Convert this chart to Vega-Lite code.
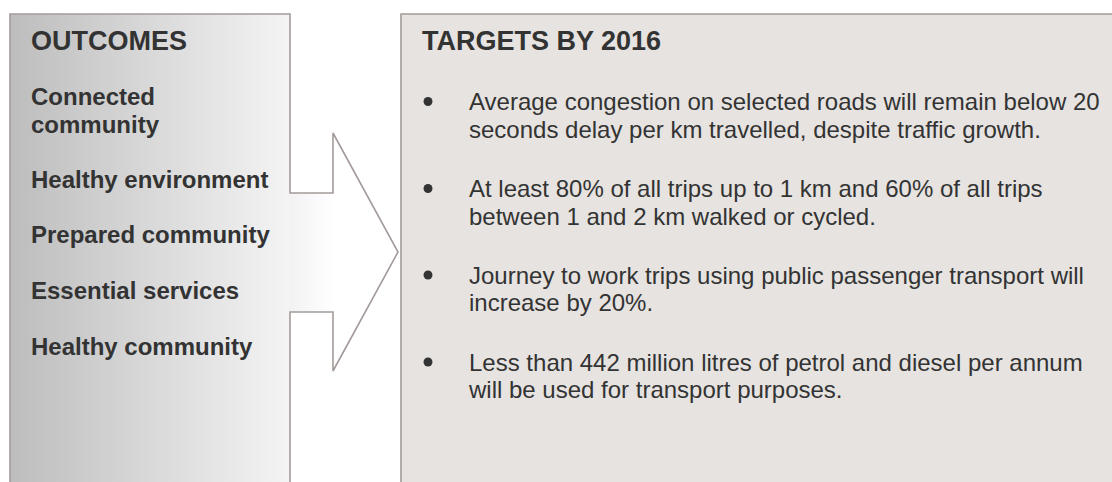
{
  "$schema": "https://vega.github.io/schema/vega-lite/v6.json",
  "width": 1112,
  "height": 482,
  "padding": 0,
  "autosize": {"type": "none"},
  "background": "#ffffff",
  "config": {"view": {"stroke": null}},
  "datasets": {
    "boxes": [
      {"box": "outcomes", "x0": 10, "x1": 290, "y0": 14, "y1": 482},
      {"box": "targets", "x0": 401, "x1": 1112, "y0": 14, "y1": 482}
    ],
    "arrow": [
      {"x": 290, "top": 193, "bottom": 312},
      {"x": 333, "top": 193, "bottom": 312},
      {"x": 333.01, "top": 133, "bottom": 371},
      {"x": 398, "top": 252, "bottom": 252}
    ],
    "outline": [
      {"path": "left", "i": 1, "x": 10, "y": 482},
      {"path": "left", "i": 2, "x": 10, "y": 14},
      {"path": "left", "i": 3, "x": 290, "y": 14},
      {"path": "left", "i": 4, "x": 290, "y": 193},
      {"path": "left", "i": 5, "x": 333, "y": 193},
      {"path": "left", "i": 6, "x": 333, "y": 133},
      {"path": "left", "i": 7, "x": 398, "y": 252},
      {"path": "left", "i": 8, "x": 333, "y": 371},
      {"path": "left", "i": 9, "x": 333, "y": 312},
      {"path": "left", "i": 10, "x": 290, "y": 312},
      {"path": "left", "i": 11, "x": 290, "y": 482},
      {"path": "right", "i": 1, "x": 1112, "y": 14},
      {"path": "right", "i": 2, "x": 401, "y": 14},
      {"path": "right", "i": 3, "x": 401, "y": 482}
    ],
    "labels": [
      {"group": "heading", "x": 31, "y": 50, "text": "OUTCOMES"},
      {"group": "heading", "x": 422, "y": 50, "text": "TARGETS BY 2016"},
      {"group": "outcome", "x": 31, "y": 105, "text": "Connected\ncommunity"},
      {"group": "outcome", "x": 31, "y": 188, "text": "Healthy environment"},
      {"group": "outcome", "x": 31, "y": 243, "text": "Prepared community"},
      {"group": "outcome", "x": 31, "y": 299, "text": "Essential services"},
      {"group": "outcome", "x": 31, "y": 355, "text": "Healthy community"},
      {"group": "target", "x": 469, "y": 110, "text": "Average congestion on selected roads will remain below 20\nseconds delay per km travelled, despite traffic growth."},
      {"group": "target", "x": 469, "y": 197, "text": "At least 80% of all trips up to 1 km and 60% of all trips\nbetween 1 and 2 km walked or cycled."},
      {"group": "target", "x": 469, "y": 283.5, "text": "Journey to work trips using public passenger transport will\nincrease by 20%."},
      {"group": "target", "x": 469, "y": 370.5, "text": "Less than 442 million litres of petrol and diesel per annum\nwill be used for transport purposes."}
    ],
    "bullets": [
      {"x": 428, "y": 101.5},
      {"x": 428, "y": 188.5},
      {"x": 428, "y": 275},
      {"x": 428, "y": 362}
    ]
  },
  "layer": [
    {
      "data": {"name": "boxes"},
      "transform": [{"filter": "datum.box === 'outcomes'"}],
      "mark": {"type": "rect", "fill": {"gradient": "linear", "x1": 0, "x2": 1, "y1": 0, "y2": 0, "stops": [{"offset": 0, "color": "#bdbdbd"}, {"offset": 1, "color": "#f4f4f4"}]}, "stroke": null},
      "encoding": {
        "x": {"field": "x0", "type": "quantitative", "scale": {"domain": [0, 1112], "nice": false, "zero": false}, "axis": null},
        "x2": {"field": "x1"},
        "y": {"field": "y0", "type": "quantitative", "scale": {"domain": [0, 482], "nice": false, "zero": false, "reverse": true}, "axis": null},
        "y2": {"field": "y1"}
      }
    },
    {
      "data": {"name": "boxes"},
      "transform": [{"filter": "datum.box === 'targets'"}],
      "mark": {"type": "rect", "fill": "#e6e3e1", "stroke": null},
      "encoding": {
        "x": {"field": "x0", "type": "quantitative", "scale": {"domain": [0, 1112], "nice": false, "zero": false}, "axis": null},
        "x2": {"field": "x1"},
        "y": {"field": "y0", "type": "quantitative", "scale": {"domain": [0, 482], "nice": false, "zero": false, "reverse": true}, "axis": null},
        "y2": {"field": "y1"}
      }
    },
    {
      "data": {"name": "arrow"},
      "mark": {"type": "area", "fill": {"gradient": "linear", "x1": 0, "x2": 1, "y1": 0, "y2": 0, "stops": [{"offset": 0, "color": "#f2f2f2"}, {"offset": 0.4, "color": "#ffffff"}, {"offset": 1, "color": "#ffffff"}]}, "stroke": null, "orient": "vertical"},
      "encoding": {
        "x": {"field": "x", "type": "quantitative", "scale": {"domain": [0, 1112], "nice": false, "zero": false}, "axis": null},
        "y": {"field": "top", "type": "quantitative", "scale": {"domain": [0, 482], "nice": false, "zero": false, "reverse": true}, "axis": null},
        "y2": {"field": "bottom"}
      }
    },
    {
      "data": {"name": "outline"},
      "mark": {"type": "line", "stroke": "#a39b99", "strokeWidth": 1.6, "strokeJoin": "miter"},
      "encoding": {
        "x": {"field": "x", "type": "quantitative", "scale": {"domain": [0, 1112], "nice": false, "zero": false}, "axis": null},
        "y": {"field": "y", "type": "quantitative", "scale": {"domain": [0, 482], "nice": false, "zero": false, "reverse": true}, "axis": null},
        "order": {"field": "i", "type": "quantitative"},
        "detail": {"field": "path", "type": "nominal"}
      }
    },
    {
      "data": {"name": "labels"},
      "transform": [{"filter": "datum.group === 'heading'"}],
      "mark": {"type": "text", "align": "left", "baseline": "alphabetic", "font": "Liberation Sans", "fontWeight": "bold", "fontSize": 27, "color": "#333333"},
      "encoding": {
        "x": {"field": "x", "type": "quantitative", "scale": {"domain": [0, 1112], "nice": false, "zero": false}, "axis": null},
        "y": {"field": "y", "type": "quantitative", "scale": {"domain": [0, 482], "nice": false, "zero": false, "reverse": true}, "axis": null},
        "text": {"field": "text"}
      }
    },
    {
      "data": {"name": "labels"},
      "transform": [{"filter": "datum.group === 'outcome'"}],
      "mark": {"type": "text", "align": "left", "baseline": "alphabetic", "font": "Liberation Sans", "fontWeight": "bold", "fontSize": 24, "lineHeight": 27.5, "lineBreak": "\n", "color": "#333333"},
      "encoding": {
        "x": {"field": "x", "type": "quantitative", "scale": {"domain": [0, 1112], "nice": false, "zero": false}, "axis": null},
        "y": {"field": "y", "type": "quantitative", "scale": {"domain": [0, 482], "nice": false, "zero": false, "reverse": true}, "axis": null},
        "text": {"field": "text"}
      }
    },
    {
      "data": {"name": "labels"},
      "transform": [{"filter": "datum.group === 'target'"}],
      "mark": {"type": "text", "align": "left", "baseline": "alphabetic", "font": "Liberation Sans", "fontWeight": "normal", "fontSize": 24, "lineHeight": 27.7, "lineBreak": "\n", "color": "#333333"},
      "encoding": {
        "x": {"field": "x", "type": "quantitative", "scale": {"domain": [0, 1112], "nice": false, "zero": false}, "axis": null},
        "y": {"field": "y", "type": "quantitative", "scale": {"domain": [0, 482], "nice": false, "zero": false, "reverse": true}, "axis": null},
        "text": {"field": "text"}
      }
    },
    {
      "data": {"name": "bullets"},
      "mark": {"type": "point", "shape": "circle", "filled": true, "size": 80, "color": "#333333", "opacity": 1},
      "encoding": {
        "x": {"field": "x", "type": "quantitative", "scale": {"domain": [0, 1112], "nice": false, "zero": false}, "axis": null},
        "y": {"field": "y", "type": "quantitative", "scale": {"domain": [0, 482], "nice": false, "zero": false, "reverse": true}, "axis": null}
      }
    }
  ]
}
